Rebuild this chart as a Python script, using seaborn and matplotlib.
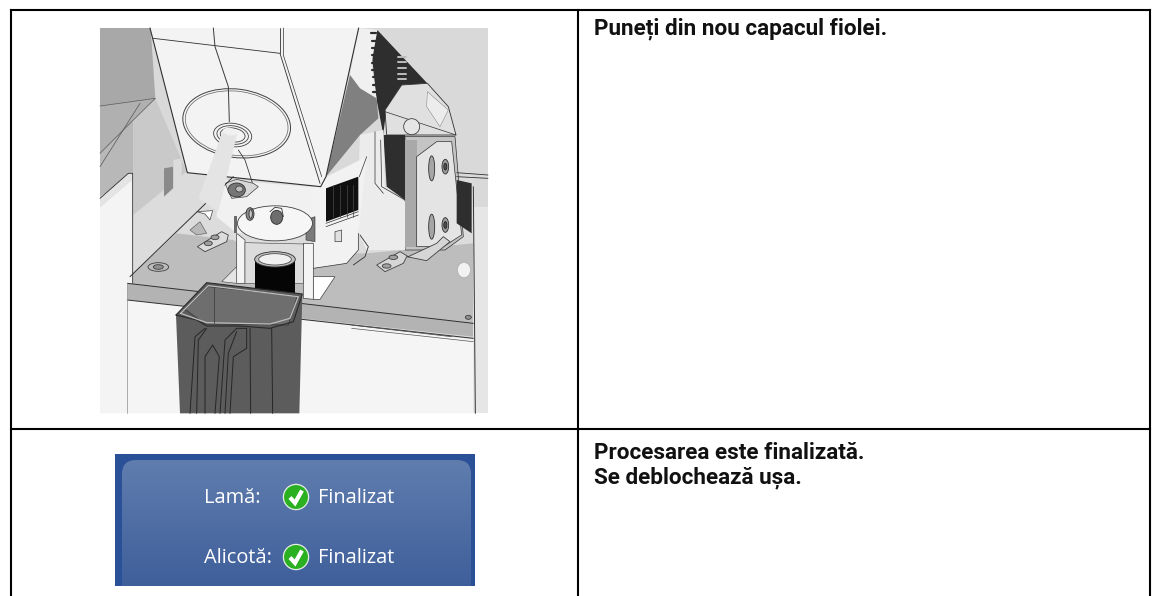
import numpy as np
import matplotlib
matplotlib.use("Agg")
import matplotlib.pyplot as plt
from matplotlib.patches import Polygon, Ellipse, Circle, FancyBboxPatch, Rectangle
import seaborn as sns

sns.set_theme(style="white")

instruction_top = ["Puneți din nou capacul fiolei."]
instruction_bottom = ["Procesarea este finalizată.", "Se deblochează ușa."]
status_labels = ["Lamă:", "Alicotă:"]
status_values = ["Finalizat", "Finalizat"]

W, H = 1160, 596
fig = plt.figure(figsize=(W / 100, H / 100), dpi=100, facecolor="white")
ax = fig.add_axes([0, 0, 1, 1])
ax.set_xlim(0, W)
ax.set_ylim(H, 0)
ax.axis("off")


def Z(pts):
    return [(90 + x / 3, 20 + y / 3) for x, y in pts]


def poly(pts, fc, ec="none", lw=0.0, z=2):
    ax.add_patch(Polygon(Z(pts), closed=True, fc=fc, ec=ec, lw=lw, zorder=z))


def line(pts, c="#303030", lw=0.6, z=3):
    a = np.array(Z(pts))
    ax.plot(a[:, 0], a[:, 1], color=c, lw=lw, zorder=z, solid_capstyle="round")


def ell(x, y, w, h, fc="none", ec="#404040", lw=0.6, angle=0, z=3):
    cx, cy = Z([(x, y)])[0]
    ax.add_patch(Ellipse((cx, cy), w / 3, h / 3, angle=angle, fc=fc, ec=ec, lw=lw, zorder=z))


# ---- upper illustration ----
poly([(30, 24), (1194, 24), (1194, 1180), (30, 1180)], "#d9d9d9", z=1)
poly([(30, 24), (182, 24), (196, 235), (30, 258)], "#a8a8a8")
poly([(30, 258), (196, 235), (130, 300), (30, 400)], "#b0b0b0")
poly([(30, 400), (130, 300), (130, 458), (30, 530)], "#b8b8b8")
poly([(130, 300), (196, 235), (290, 455), (130, 585)], "#c9c9c9")
poly([(130, 585), (290, 455), (700, 500), (1150, 470), (1150, 700), (120, 780)], "#dcdcdc")
poly([(120, 770), (260, 640), (430, 660), (500, 700), (830, 700), (1150, 670), (1150, 910), (115, 795)], "#bdbdbd")
poly([(112, 790), (1150, 910), (1150, 950), (112, 840)], "#b3b3b3")
line([(112, 790), (1150, 910)], lw=0.7)
line([(112, 840), (1150, 955)], lw=0.7)
line([(120, 770), (430, 470)], lw=0.7)
poly([(112, 840), (1150, 958), (1150, 1180), (112, 1180)], "#f5f5f5")
poly([(30, 562), (128, 478), (128, 790), (112, 790), (112, 1180), (30, 1180)], "#f4f4f4")
poly([(30, 535), (115, 460), (128, 460), (128, 478), (30, 562)], "#e4e4e4")
line([(30, 535), (115, 460), (128, 460), (128, 790)], lw=0.6)
line([(112, 790), (112, 1180)], c="#909090", lw=0.5)
poly([(1150, 560), (1194, 560), (1194, 1180), (1150, 1180)], "#e6e6e6")
line([(1150, 500), (1156, 1180)], lw=0.7)
line([(30, 258), (196, 235), (130, 300), (30, 400)], c="#555555", lw=0.5)
line([(30, 440), (150, 250)], c="#555555", lw=0.5)
poly([(222, 445), (250, 440), (250, 505), (222, 530)], "#8a8a8a")
poly([(250, 420), (275, 415), (275, 480), (222, 530), (250, 505)], "#dcdcdc")

# right grey, belt, wedge
poly([(865, 24), (1194, 24), (1194, 455), (1100, 458), (1100, 340), (1010, 190)], "#d9d9d9")
poly([(862, 30), (1012, 190), (935, 195), (890, 265), (880, 340), (890, 500), (945, 540), (945, 345), (880, 345),
      (860, 240), (845, 100)], "#2e2e2e")
poly([(806, 24), (862, 30), (845, 130), (860, 240), (810, 205), (780, 165)], "#f0f0f0")
poly([(708, 470), (780, 165), (810, 205), (860, 235), (865, 295), (810, 345)], "#808080")
for yy in range(40, 230, 22):
    xx = 850 + (yy - 40) * 0.03
    line([(xx - 6, yy), (xx + 8, yy)], c="#2e2e2e", lw=1.6)
for yy in range(110, 195, 17):
    line([(925, yy), (948, yy)], c="#bdbdbd", lw=1.4)

# bracket and pillar
poly([(885, 270), (935, 195), (1012, 190), (1075, 260), (1098, 345), (890, 345)], "#e0e0e0", ec="#303030", lw=0.6)
line([(885, 275), (1098, 345)], lw=0.5)
ell(965, 320, 48, 48, fc="#e6e6e6")
poly([(1012, 215), (1075, 270), (1050, 320), (1010, 260)], "#ececec", ec="#707070", lw=0.3)
poly([(945, 350), (1095, 350), (1120, 650), (1065, 690), (945, 690)], "#c4c4c4", ec="#303030", lw=0.5)
poly([(945, 360), (980, 360), (980, 680), (945, 680)], "#a9a9a9")
poly([(980, 410), (1040, 365), (1085, 365), (1115, 645), (1060, 680), (980, 680)], "#e4e4e4", ec="#303030", lw=0.5)
poly([(810, 345), (880, 330), (885, 500), (945, 545), (945, 690), (830, 690), (805, 640), (805, 470)], "#ececec")
line([(855, 335), (855, 490), (880, 520)], lw=0.5)
line([(872, 360), (875, 500), (945, 540)], lw=0.5)
for yy in (445, 620):
    ell(1025, yy, 18, 75, fc="#a5a5a5", ec="#303030")
    ell(1066, yy - 5, 20, 44, fc="#9a9a9a", ec="#303030")
    ell(1066, yy - 5, 9, 20, fc="#505050", ec="#202020")
poly([(1100, 480), (1145, 490), (1145, 640), (1100, 610)], "#2e2e2e")
line([(1100, 458), (1194, 465)], lw=0.6)
line([(1100, 470), (1194, 475)], lw=0.6)

# funnel
poly([(180, 24), (806, 24), (708, 470), (692, 500), (292, 458)], "#f3f3f3")
line([(180, 24), (292, 458), (692, 500), (708, 470), (806, 24)], lw=0.8)
line([(190, 55), (570, 100), (690, 490)], lw=0.6)
line([(570, 24), (570, 100)], lw=0.6)
line([(580, 24), (580, 105), (695, 470)], lw=0.5)
ell(440, 310, 325, 205, ec="#404040", lw=0.7, angle=8)
ell(440, 310, 310, 192, ec="#606060", lw=0.5, angle=8)
ell(428, 345, 115, 70, ec="#404040", angle=8)
ell(428, 345, 95, 55, ec="#404040", angle=8)
ell(428, 345, 75, 42, ec="#404040", angle=8)
poly([(400, 330), (442, 340), (385, 575), (325, 535)], "#e4e4e4", z=4)
ell(420, 335, 44, 22, fc="#f0f0f0", ec="none", z=4, angle=10)
line([(370, 24), (375, 80), (415, 200), (418, 305)], c="#3a3a3a", lw=0.7, z=5)
line([(445, 390), (465, 420), (487, 488)], c="#3a3a3a", lw=0.6, z=5)

# light deck under the funnel
poly([(385, 478), (692, 503), (708, 510), (700, 640), (440, 640), (380, 590)], "#f1f1f1")

# cap head on plate
poly([(405, 490), (440, 478), (490, 490), (505, 500), (470, 530), (425, 535)], "#d8d8d8", ec="#404040", lw=0.5)
ell(440, 510, 52, 42, fc="#767676", ec="#303030")
ell(448, 507, 22, 18, fc="#bdbdbd", ec="#404040")
poly([(320, 575), (368, 572), (360, 600), (345, 582)], "#ffffff", ec="#404040", lw=0.5, z=3)
poly([(300, 630), (330, 605), (350, 640), (320, 645)], "#b8b8b8", ec="#505050", lw=0.4)
poly([(322, 680), (395, 635), (415, 645), (410, 665), (345, 695)], "#dcdcdc", ec="#404040", lw=0.6)
ell(355, 670, 24, 14, fc="#a0a0a0")
ell(375, 652, 24, 14, fc="#a0a0a0")
ell(205, 741, 62, 26, fc="#bcbcbc")
ell(205, 741, 30, 14, fc="#909090")

# motor
poly([(668, 505), (710, 470), (830, 410), (805, 640), (805, 690), (770, 730), (670, 745)], "#f2f2f2")
line([(830, 410), (808, 470)], lw=0.5)
line([(805, 640), (805, 690), (770, 730), (670, 745)], lw=0.5)
poly([(708, 505), (805, 470), (805, 570), (708, 605)], "#101010")
for xx in (730, 750, 770, 790):
    line([(xx, 495), (xx, 590)], c="#4a4a4a", lw=0.5)
line([(708, 610), (805, 575)], lw=0.5)
line([(708, 620), (805, 585)], lw=0.5)
poly([(735, 635), (755, 630), (755, 665), (735, 665)], "#e0e0e0", ec="#404040", lw=0.5)
line([(810, 645), (835, 680), (825, 710), (790, 735)], lw=0.6)

# carriage
ell(555, 610, 225, 105, fc="#f6f6f6", ec="#404040")
poly([(480, 565), (555, 580), (545, 618), (470, 600)], "#cfcfcf", ec="#404040", lw=0.4)
ell(480, 582, 24, 38, fc="#8a8a8a", ec="#303030")
ell(482, 582, 10, 26, fc="#c8c8c8", ec="#303030")
ell(560, 592, 36, 42, fc="#6e6e6e", ec="#303030")
line([(540, 575), (555, 562), (575, 565), (580, 590)], lw=0.6)
poly([(432, 588), (442, 588), (442, 640), (432, 640)], "#6a6a6a")
poly([(648, 600), (675, 590), (675, 665), (648, 660)], "#7a7a7a", ec="#303030", lw=0.4)
poly([(592, 618), (622, 615), (622, 650), (592, 650)], "#f0f0f0", ec="#404040", lw=0.5)
poly([(440, 640), (465, 660), (465, 790), (440, 790)], "#f4f4f4", ec="#404040", lw=0.5)
poly([(640, 670), (670, 670), (670, 838), (640, 835)], "#f4f4f4", ec="#404040", lw=0.5)
poly([(465, 668), (640, 672), (640, 790), (465, 790)], "#dcdcdc", ec="#404040", lw=0.4)
poly([(670, 770), (735, 770), (690, 838), (670, 838)], "#ffffff", ec="#404040", lw=0.5)
poly([(395, 785), (440, 740), (440, 790)], "#e5e5e5", ec="#404040", lw=0.4)

# vial
poly([(495, 720), (615, 720), (615, 830), (495, 830)], "#050505")
ell(555, 718, 122, 46, fc="#bdbdbd", ec="#303030")
ell(555, 718, 98, 34, fc="#f0f0f0", ec="#505050")

# bracket on plate, right
poly([(860, 735), (930, 695), (955, 710), (1040, 670), (1060, 650), (1080, 665), (1010, 722), (950, 710), (940, 730), (885, 755)],
     "#d6d6d6", ec="#404040", lw=0.6)
ell(890, 738, 26, 13, fc="#a0a0a0")
ell(910, 712, 26, 13, fc="#a0a0a0")
ell(1122, 750, 40, 46, fc="#f2f2f2", ec="#b0b0b0")
ell(1135, 892, 18, 12, fc="#8f8f8f")
line([(785, 915), (1085, 950)], c="#555555", lw=0.6)
line([(785, 925), (1150, 965)], c="#555555", lw=0.5)

# pitcher
poly([(258, 885), (350, 788), (637, 822), (628, 1180), (270, 1180)], "#5c5c5c", z=6)
poly([(285, 868), (355, 800), (622, 828), (595, 915), (345, 912)], "#6e6e6e", ec="#303030", lw=0.5, z=6)
line([(258, 885), (350, 788), (637, 822), (610, 905), (540, 925), (450, 918), (350, 918), (320, 900), (258, 885)],
     c="#2a2a2a", lw=0.8, z=7)
line([(272, 880), (355, 797), (625, 830), (600, 895), (540, 912), (350, 908), (272, 880)], c="#bdbdbd", lw=0.9, z=7)
line([(372, 800), (372, 910)], c="#404040", z=7)
for path in (
    [(300, 1180), (315, 950), (345, 925)],
    [(320, 1180), (325, 960), (350, 925)],
    [(345, 1180), (345, 1010), (368, 975), (388, 1010), (375, 1180)],
    [(390, 1180), (405, 960), (440, 925), (470, 925), (470, 985), (430, 1010), (420, 1180)],
    [(405, 1180), (415, 1000), (440, 935)],
    [(480, 925), (482, 1180)],
    [(545, 925), (548, 1180)],
):
    line(path, c="#262626", lw=0.7, z=7)

# ---- lower status panel ----
ax.add_patch(Rectangle((115, 454), 360, 132, fc="#2a5097", ec="none", zorder=2))
grad = np.linspace(0, 1, 128)[:, None]
top = np.array([0x60, 0x7d, 0xae]) / 255
bot = np.array([0x3f, 0x5f, 0x9b]) / 255
img = (top[None, None, :] * (1 - grad[..., None]) + bot[None, None, :] * grad[..., None])
im = ax.imshow(img, extent=(122, 471, 586, 460), aspect="auto", zorder=3, interpolation="bilinear")
panel = FancyBboxPatch((122, 460), 349, 170, boxstyle="round,pad=0,rounding_size=14",
                       fc="none", ec="none", transform=ax.transData)
ax.add_patch(panel)
im.set_clip_path(panel)
ax.set_xlim(0, W)
ax.set_ylim(H, 0)

ui_font = ["Open Sans", "DejaVu Sans"]
row_y = [498, 558]
for lab, val, y in zip(status_labels, status_values, row_y):
    ax.text(204, y, lab, color="white", fontsize=14.4, family=ui_font, va="center", ha="left", zorder=5)
    ax.text(318, y, val, color="white", fontsize=14.4, family=ui_font, va="center", ha="left", zorder=5)
    cy = y - 1
    ax.add_patch(Circle((296, cy), 12.6, fc="#2bb022", ec="#e4eee4", lw=0.9, zorder=5))
    ax.plot([290, 295, 302], [cy + 0.5, cy + 6, cy - 6.5], color="white", lw=3.0, zorder=6,
            solid_capstyle="butt", solid_joinstyle="miter")

# ---- table rules ----
rule = dict(color="black", lw=1.5, zorder=10, solid_capstyle="projecting")
ax.plot([11, 1150], [10, 10], **rule)
ax.plot([11, 1150], [429, 429], **rule)
ax.plot([11, 11], [10, 596], **rule)
ax.plot([578, 578], [10, 596], **rule)
ax.plot([1150, 1150], [10, 596], **rule)

# ---- instructions ----
head_font = ["Roboto", "DejaVu Sans"]
for txt, y in zip(instruction_top, [29]):
    ax.text(594, y, txt, fontsize=16.2, fontweight="bold", family=head_font, color="#111111", va="center", ha="left", zorder=10)
for txt, y in zip(instruction_bottom, [453, 478]):
    ax.text(594, y, txt, fontsize=16.2, fontweight="bold", family=head_font, color="#111111", va="center", ha="left", zorder=10)

fig.savefig("out.png", dpi=100, facecolor="white")
